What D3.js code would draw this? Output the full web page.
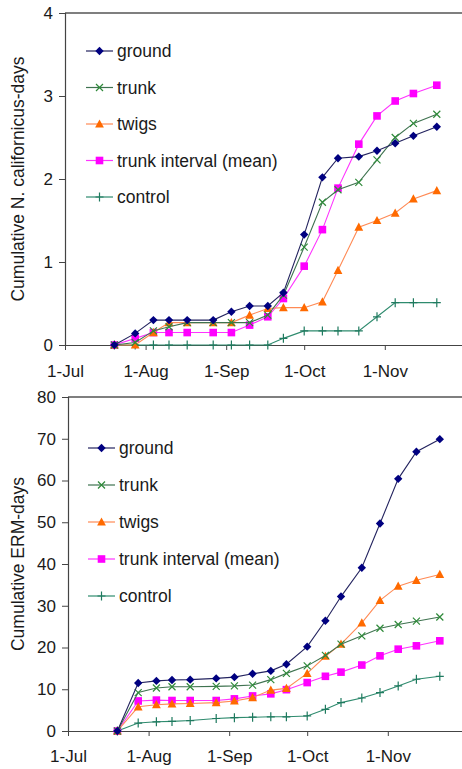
<!DOCTYPE html>
<html>
<head>
<meta charset="utf-8">
<script src="https://cdn.jsdelivr.net/npm/d3@7"></script>
<style>
  html, body { margin: 0; padding: 0; background: #fff; }
  svg { display: block; }
  text { font-family: "Liberation Sans", Arial, sans-serif; fill: #1a1a1a; }
</style>
</head>
<body>
<svg id="chart" width="462" height="769"></svg>
<script>
// Sampling dates (2005 season)
const dates = ["2005-07-20","2005-07-28","2005-08-04","2005-08-10","2005-08-17","2005-08-27",
  "2005-09-03","2005-09-10","2005-09-17","2005-09-23","2005-10-01","2005-10-08","2005-10-14",
  "2005-10-22","2005-10-29","2005-11-05","2005-11-12","2005-11-21"];

const seriesNames = ["ground", "trunk", "twigs", "trunk interval (mean)", "control"];

// Cumulative N. californicus-days
const ncGround   = [0, 0.14, 0.30, 0.30, 0.30, 0.30, 0.40, 0.47, 0.47, 0.63, 1.33, 2.02, 2.25, 2.27, 2.34, 2.43, 2.52, 2.63];
const ncTrunk    = [0, 0.03, 0.17, 0.22, 0.27, 0.27, 0.27, 0.27, 0.36, 0.60, 1.18, 1.72, 1.87, 1.96, 2.23, 2.50, 2.67, 2.78];
const ncTwigs    = [0, 0, 0.15, 0.27, 0.27, 0.27, 0.27, 0.36, 0.44, 0.45, 0.45, 0.52, 0.90, 1.42, 1.50, 1.59, 1.76, 1.86];
const ncInterval = [0, 0.08, 0.15, 0.15, 0.15, 0.15, 0.15, 0.24, 0.34, 0.56, 0.95, 1.39, 1.89, 2.42, 2.76, 2.94, 3.03, 3.13];
const ncControl  = [0, 0, 0, 0, 0, 0, 0, 0, 0, 0.08, 0.17, 0.17, 0.17, 0.17, 0.34, 0.51, 0.51, 0.51];

// Cumulative ERM-days
const ermGround   = [0, 11.5, 12.0, 12.2, 12.3, 12.6, 12.9, 13.7, 14.4, 16.0, 20.2, 26.4, 32.2, 39.1, 49.7, 60.4, 66.9, 69.9];
const ermTrunk    = [0, 9.2, 10.3, 10.6, 10.6, 10.7, 10.8, 11.0, 12.3, 13.8, 15.6, 18.1, 20.8, 22.8, 24.6, 25.5, 26.3, 27.3];
const ermTwigs    = [0, 5.8, 6.3, 6.5, 6.6, 6.8, 7.2, 8.0, 9.8, 10.2, 13.8, 17.9, 20.8, 25.9, 31.3, 34.7, 36.1, 37.5];
const ermInterval = [0, 7.2, 7.4, 7.3, 7.3, 7.3, 7.7, 8.4, 8.9, 9.9, 11.6, 13.1, 14.1, 15.8, 18.0, 19.6, 20.4, 21.6];
const ermControl  = [0, 1.9, 2.2, 2.3, 2.5, 3.0, 3.2, 3.3, 3.4, 3.4, 3.6, 5.2, 6.8, 7.9, 9.2, 10.8, 12.4, 13.1];

// Date axis runs 1 Jul – 1 Dec; labelled ticks on the first of each month
const xDomain = ["2005-07-01", "2005-12-01"];
const xTickDates = ["2005-07-01","2005-08-01","2005-09-01","2005-10-01","2005-11-01"];
const ncTicks  = [0, 1, 2, 3, 4];
const ermTicks = [0, 10, 20, 30, 40, 50, 60, 70, 80];

const parse = d3.timeParse("%Y-%m-%d");
const fmt = d3.timeFormat("%-d-%b");

// Per-series styling: marker shape, marker colour, line colour
const styles = [
  { marker: "diamond",  mc: "#000080", lc: "#23235f" },
  { marker: "x",        mc: "#2f8a3a", lc: "#3f7350" },
  { marker: "triangle", mc: "#ff6a00", lc: "#ff8a55" },
  { marker: "square",   mc: "#ff00ff", lc: "#ff33ff" },
  { marker: "plus",     mc: "#1f7a5f", lc: "#2e8b6e" }
];

function drawMarker(g, type, color, x, y) {
  if (type === "diamond") {
    g.append("path").attr("d", `M${x},${y-4.2}L${x+4.2},${y}L${x},${y+4.2}L${x-4.2},${y}Z`).attr("fill", color);
  } else if (type === "square") {
    g.append("rect").attr("x", x-3.8).attr("y", y-3.8).attr("width", 7.6).attr("height", 7.6).attr("fill", color);
  } else if (type === "triangle") {
    g.append("path").attr("d", `M${x},${y-4.6}L${x+4.4},${y+3.6}L${x-4.4},${y+3.6}Z`).attr("fill", color);
  } else if (type === "x") {
    g.append("path").attr("d", `M${x-3.5},${y-3.5}L${x+3.5},${y+3.5}M${x-3.5},${y+3.5}L${x+3.5},${y-3.5}`)
      .attr("stroke", color).attr("stroke-width", 1.2).attr("fill", "none");
  } else if (type === "plus") {
    g.append("path").attr("d", `M${x-4},${y}L${x+4},${y}M${x},${y-4.5}L${x},${y+4.5}`)
      .attr("stroke", color).attr("stroke-width", 1.2).attr("fill", "none");
  }
}

function panel(svg, cfg) {
  const g = svg.append("g");
  const x = d3.scaleTime()
    .domain(xDomain.map(parse))
    .range([cfg.left, cfg.left + 153 * 2.6]);
  const y = d3.scaleLinear().domain([0, cfg.ticks[cfg.ticks.length - 1]]).range([cfg.bottom, cfg.top]);

  // top frame line
  g.append("line").attr("x1", cfg.left).attr("x2", 470).attr("y1", cfg.top).attr("y2", cfg.top)
    .attr("stroke", "#555").attr("stroke-width", 1.5);

  // y axis
  const ya = g.append("g").attr("transform", `translate(${cfg.left},0)`)
    .call(d3.axisLeft(y).tickValues(cfg.ticks).tickSize(6).tickPadding(6).tickFormat(d3.format("d")));
  ya.select(".domain").attr("stroke", "#444").attr("stroke-width", 1.2);
  ya.selectAll(".tick line").attr("stroke", "#444");
  ya.selectAll(".tick text").attr("font-size", 17).attr("fill", "#1a1a1a")
    .attr("font-family", "Liberation Sans, Arial, sans-serif");

  // x axis
  const xa = g.append("g").attr("transform", `translate(0,${cfg.bottom})`)
    .call(d3.axisBottom(x).tickValues(xTickDates.map(parse)).tickSize(5).tickPadding(cfg.xPad).tickFormat(fmt));
  xa.select(".domain").attr("stroke", "#444").attr("stroke-width", 1.2).attr("d", `M${cfg.left},0.5H470`);
  xa.selectAll(".tick line").attr("stroke", "#444");
  xa.selectAll(".tick text").attr("font-size", 17).attr("fill", "#1a1a1a")
    .attr("font-family", "Liberation Sans, Arial, sans-serif");

  // y axis title
  g.append("text")
    .attr("transform", `translate(${cfg.titleX},${(cfg.top + cfg.bottom) / 2}) rotate(-90)`)
    .attr("text-anchor", "middle").attr("dominant-baseline", "central")
    .attr("font-size", 17.5).text(cfg.title);

  const ds = dates.map(parse);
  const line = d3.line().x(d => x(d[0])).y(d => y(d[1]));

  // draw series in reverse so "ground" sits on top
  cfg.series.map((vals, i) => ({ vals, i })).reverse().forEach(({ vals, i }) => {
    const st = styles[i];
    const pts = ds.map((d, k) => [d, vals[k]]);
    g.append("path").attr("d", line(pts)).attr("fill", "none").attr("stroke", st.lc).attr("stroke-width", 1.1);
    const mg = g.append("g");
    pts.forEach(p => drawMarker(mg, st.marker, st.mc, x(p[0]), y(p[1])));
  });

  // legend
  const lg = g.append("g");
  seriesNames.forEach((name, i) => {
    const st = styles[i];
    const ly = cfg.legendY + i * cfg.legendStep;
    lg.append("line").attr("x1", cfg.legendX).attr("x2", cfg.legendX + 27).attr("y1", ly).attr("y2", ly)
      .attr("stroke", st.lc).attr("stroke-width", 1.2);
    drawMarker(lg, st.marker, st.mc, cfg.legendX + 13.5, ly);
    lg.append("text").attr("x", cfg.legendX + 31).attr("y", ly).attr("dominant-baseline", "central")
      .attr("font-size", 17.5).text(name);
  });
}

const svg = d3.select("#chart");

panel(svg, {
  left: 65, top: 13, bottom: 345, ticks: ncTicks, titleX: 18, xPad: 15,
  title: "Cumulative N. californicus-days",
  series: [ncGround, ncTrunk, ncTwigs, ncInterval, ncControl],
  legendX: 86, legendY: 51, legendStep: 36.5
});

panel(svg, {
  left: 68, top: 397, bottom: 731, ticks: ermTicks, titleX: 18, xPad: 14,
  title: "Cumulative ERM-days",
  series: [ermGround, ermTrunk, ermTwigs, ermInterval, ermControl],
  legendX: 88, legendY: 448, legendStep: 37
});
</script>
</body>
</html>
